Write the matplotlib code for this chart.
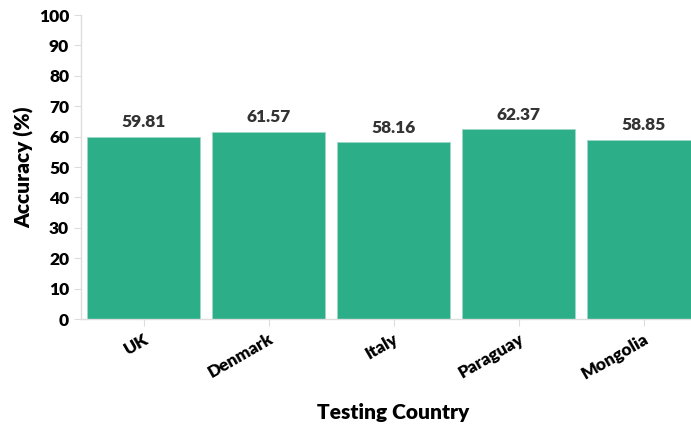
import matplotlib
matplotlib.use("Agg")
import matplotlib.pyplot as plt

plt.rcParams['font.family'] = ['Lato', 'DejaVu Sans']

countries = ["UK", "Denmark", "Italy", "Paraguay", "Mongolia"]
accuracy = [59.81, 61.57, 58.16, 62.37, 58.85]
yticks = [0, 10, 20, 30, 40, 50, 60, 70, 80, 90, 100]

BAR_COLOR = '#2CAE89'
SPINE_COLOR = '#dddddd'
WEIGHT = 'heavy'

fig = plt.figure(figsize=(6.91, 4.26), dpi=100)
# axes runs a little past the right edge, as in the original
ax = fig.add_axes([81 / 691, 107 / 426, 625 / 691, 304 / 426])

x = range(len(countries))
bars = ax.bar(x, accuracy, width=0.9, color=BAR_COLOR, edgecolor='#9ed9c6', linewidth=0.6)

for xi, v in zip(x, accuracy):
    ax.text(xi, v + 2.2, f'{v:.2f}', ha='center', va='bottom',
            fontsize=12.5, fontweight=WEIGHT, color='#333333')

ax.set_xlim(-0.5, len(countries) - 0.5)
ax.set_ylim(0, 100)
ax.set_yticks(yticks)
ax.set_xticks(list(x))
ax.set_xticklabels(countries, rotation=30, ha='right', rotation_mode='anchor',
                   fontsize=12.5, fontweight=WEIGHT)
ax.tick_params(axis='y', labelsize=12.5, colors=SPINE_COLOR, labelcolor='black', length=5)
ax.tick_params(axis='x', colors=SPINE_COLOR, labelcolor='black', length=5)
for lbl in ax.get_yticklabels():
    lbl.set_fontweight(WEIGHT)

for side in ['top', 'right']:
    ax.spines[side].set_visible(False)
for side in ['left', 'bottom']:
    ax.spines[side].set_color(SPINE_COLOR)
    ax.spines[side].set_linewidth(1.0)

ax.set_xlabel('Testing Country', fontsize=15, fontweight=WEIGHT, labelpad=15)
ax.set_ylabel('Accuracy (%)', fontsize=15, fontweight=WEIGHT, labelpad=3)

fig.savefig('out.png', dpi=100)
